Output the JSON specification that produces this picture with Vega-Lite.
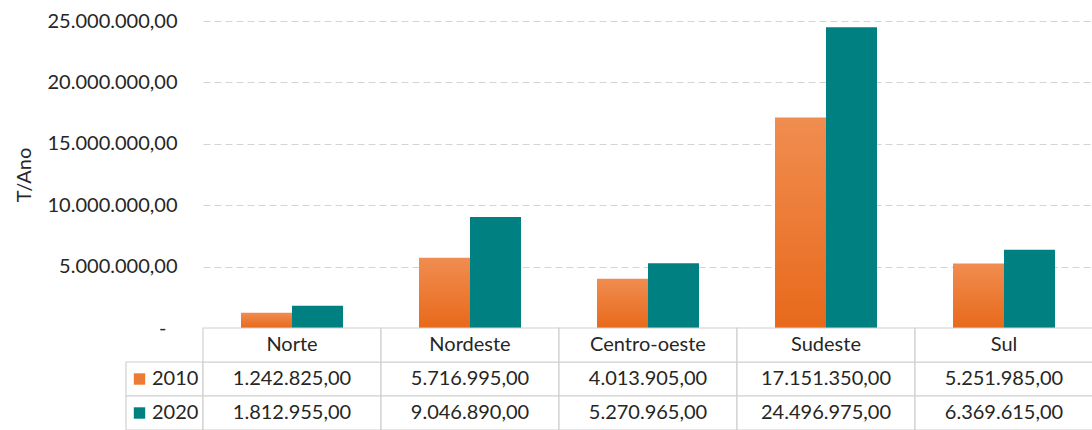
{
  "$schema": "https://vega.github.io/schema/vega-lite/v6.json",
  "padding": {"left": 14, "top": 11, "right": 0, "bottom": 0},
  "config": {
    "font": "Lato",
    "locale": {"number": {"decimal": ",", "thousands": ".", "grouping": [3], "currency": ["R$ ", ""]}},
    "view": {"stroke": null},
    "text": {"font": "Lato", "fontSize": 20, "color": "#262626"}
  },
  "datasets": {
    "main": [
      {"region": "Norte", "year": "2010", "value": 1242825},
      {"region": "Nordeste", "year": "2010", "value": 5716995},
      {"region": "Centro-oeste", "year": "2010", "value": 4013905},
      {"region": "Sudeste", "year": "2010", "value": 17151350},
      {"region": "Sul", "year": "2010", "value": 5251985},
      {"region": "Norte", "year": "2020", "value": 1812955},
      {"region": "Nordeste", "year": "2020", "value": 9046890},
      {"region": "Centro-oeste", "year": "2020", "value": 5270965},
      {"region": "Sudeste", "year": "2020", "value": 24496975},
      {"region": "Sul", "year": "2020", "value": 6369615}
    ],
    "years": [{"year": "2010"}, {"year": "2020"}]
  },
  "columns": 2,
  "spacing": 0,
  "bounds": "flush",
  "align": "each",
  "concat": [
    {
      "width": 77,
      "height": 307,
      "data": {"values": []},
      "mark": {"type": "point", "opacity": 0},
      "encoding": {}
    },
    {
      "width": 890,
      "height": 307,
      "data": {"name": "main"},
      "encoding": {
        "x": {"field": "region", "type": "nominal", "axis": null,
              "sort": ["Norte", "Nordeste", "Centro-oeste", "Sudeste", "Sul"],
              "scale": {"paddingInner": 0, "paddingOuter": 0}},
        "xOffset": {"field": "year", "type": "nominal",
                    "scale": {"domain": ["2010", "2020"], "paddingInner": 0, "paddingOuter": 0.745}},
        "y": {"field": "value", "type": "quantitative",
              "scale": {"domain": [0, 25000000]},
              "axis": {
                "values": [0, 5000000, 10000000, 15000000, 20000000, 25000000],
                "title": "T/Ano",
                "titleFont": "Lato", "titleFontSize": 20, "titleFontWeight": "normal", "titleColor": "#262626",
                "titlePadding": 13,
                "labelFont": "Lato", "labelFontSize": 20, "labelColor": "#262626",
                "labelPadding": {"condition": {"test": "datum.value == 0", "value": 37}, "value": 26},
                "labelExpr": "datum.value == 0 ? '-' : format(datum.value, ',.2f')",
                "domain": false, "ticks": false,
                "grid": true, "gridColor": "#d4d4d4", "gridDash": [7, 4], "gridWidth": 1.2
              }}
      },
      "layer": [
        {
          "transform": [{"filter": "datum.year == '2010'"}],
          "mark": {"type": "bar", "fill": {"gradient": "linear", "x1": 0, "y1": 0, "x2": 0, "y2": 1,
                   "stops": [{"offset": 0, "color": "#F08D50"}, {"offset": 1, "color": "#E8691B"}]}}
        },
        {
          "transform": [{"filter": "datum.year == '2020'"}],
          "mark": {"type": "bar", "fill": "#008080"}
        }
      ]
    },
    {
      "width": 77,
      "height": 102,
      "data": {"name": "years"},
      "encoding": {
        "x": {"datum": "k", "type": "nominal", "axis": null, "scale": {"paddingInner": 0, "paddingOuter": 0}},
        "y": {"field": "year", "type": "ordinal", "axis": null,
              "scale": {"domain": ["header", "2010", "2020"], "paddingInner": 0, "paddingOuter": 0}}
      },
      "layer": [
        {"mark": {"type": "rect", "fill": "white", "stroke": "#d0d0d0", "strokeWidth": 1.2}},
        {"mark": {"type": "point", "shape": "square", "filled": true, "size": 130, "xOffset": -25, "opacity": 1},
         "encoding": {"color": {"field": "year", "type": "nominal", "legend": null,
                                "scale": {"domain": ["2010", "2020"], "range": ["#EE7B33", "#008080"]}}}},
        {"mark": {"type": "text", "align": "left", "dx": -12.5, "baseline": "middle"},
         "encoding": {"text": {"field": "year"}}}
      ]
    },
    {
      "width": 890,
      "height": 102,
      "data": {"name": "main"},
      "encoding": {
        "x": {"field": "region", "type": "nominal", "axis": null,
              "sort": ["Norte", "Nordeste", "Centro-oeste", "Sudeste", "Sul"],
              "scale": {"paddingInner": 0, "paddingOuter": 0}}
      },
      "layer": [
        {
          "mark": {"type": "rect", "fill": "white", "stroke": "#d0d0d0", "strokeWidth": 1.2},
          "encoding": {"y": {"field": "year", "type": "ordinal", "axis": null,
                             "scale": {"domain": ["header", "2010", "2020"], "paddingInner": 0, "paddingOuter": 0}}}
        },
        {
          "transform": [{"filter": "datum.year == '2010'"}],
          "mark": {"type": "rect", "fill": "white", "stroke": "#d0d0d0", "strokeWidth": 1.2},
          "encoding": {"y": {"datum": "header", "type": "ordinal"}}
        },
        {
          "transform": [{"filter": "datum.year == '2010'"}],
          "mark": {"type": "text", "baseline": "middle"},
          "encoding": {"y": {"datum": "header", "type": "ordinal"},
                       "text": {"field": "region"}}
        },
        {
          "mark": {"type": "text", "baseline": "middle"},
          "encoding": {"y": {"field": "year", "type": "ordinal"},
                       "text": {"field": "value", "type": "quantitative", "format": ",.2f"}}
        }
      ]
    }
  ]
}
